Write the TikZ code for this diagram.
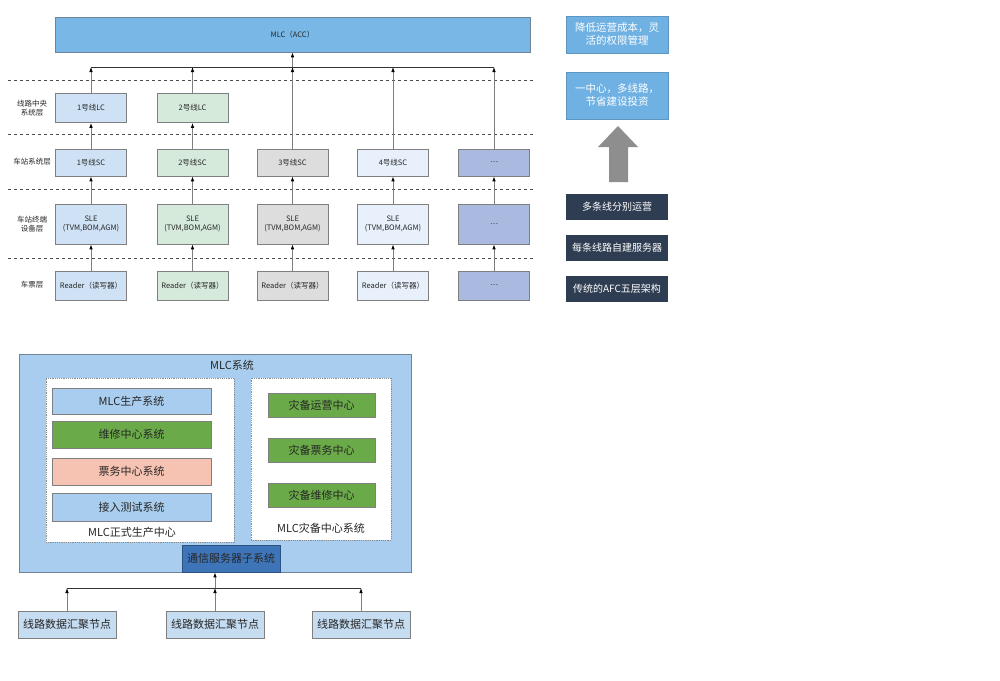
\documentclass[tikz,border=0pt]{standalone}
\usepackage{fontspec}
\setmainfont{Noto Sans CJK SC}
\usepackage{xcolor}
\usepackage{tikz}
\usetikzlibrary{positioning, arrows.meta}

\definecolor{accblue}{HTML}{79B8E6}
\definecolor{lineone}{HTML}{CFE2F5}
\definecolor{linetwo}{HTML}{D6EADB}
\definecolor{linethree}{HTML}{DDDDDD}
\definecolor{linefour}{HTML}{E7F0FB}
\definecolor{linemore}{HTML}{AAB9DF}
\definecolor{boxgray}{HTML}{7F7F7F}
\definecolor{goalblue}{HTML}{6FB1E3}
\definecolor{navy}{HTML}{2F3D52}
\definecolor{bigarrow}{HTML}{8E8E8E}
\definecolor{mlcblue}{HTML}{A9CDEE}
\definecolor{mlcedge}{HTML}{6F8399}
\definecolor{repairgreen}{HTML}{6AAA48}
\definecolor{ticketpink}{HTML}{F6C2B1}
\definecolor{commblue}{HTML}{3E75B9}
\definecolor{aggblue}{HTML}{C5DCF1}

\begin{document}
\begin{tikzpicture}[x=1pt, y=-1pt, >=latex,
  every node/.style={font=\fontsize{7.5}{9}\selectfont, align=center, inner sep=0pt, text=black!85},
  cell/.style={draw=boxgray, line width=0.7pt, minimum width=71pt, minimum height=29pt},
  up/.style={-{Latex[length=5pt, width=3.6pt, color=black]}, draw=boxgray, line width=0.8pt},
  layerline/.style={draw=black!70, dashed, line width=0.7pt},
  goal/.style={fill=goalblue, draw=goalblue!85!black, minimum width=102pt, text=white, font=\fontsize{10.5}{13}\selectfont},
  fact/.style={fill=navy, minimum width=102pt, minimum height=26pt, text=white, font=\fontsize{10}{12}\selectfont},
  sub/.style={draw=boxgray, line width=0.7pt, font=\fontsize{11}{13}\selectfont, text=black!85}]
\useasboundingbox (0,0) rectangle (1000,680);

% Five-layer AFC architecture
\node[draw=mlcedge, fill=accblue, line width=0.7pt, minimum width=475pt, minimum height=35pt] (mlc) at (292.5,34.5) {MLC（ACC）};

\draw[layerline] (8,80) -- (533,80);
\draw[layerline] (8,134) -- (533,134);
\draw[layerline] (8,189) -- (533,189);
\draw[layerline] (8,258) -- (533,258);

\node (lclayer) at (32,108) {线路中央\\系统层};
\node (sclayer) at (32,162) {车站系统层};
\node (slelayer) at (32,224) {车站终端\\设备层};
\node (cardlayer) at (32,285) {车票层};

% Nodes
\node[cell, fill=lineone] (lc1) at (91,108) {1号线LC};
\node[cell, fill=linetwo] (lc2) at (192.5,108) {2号线LC};

\node[cell, fill=lineone, minimum height=27pt] (sc1) at (91,162.5) {1号线SC};
\node[cell, fill=linetwo, minimum height=27pt] (sc2) at (192.5,162.5) {2号线SC};
\node[cell, fill=linethree, minimum height=27pt] (sc3) at (292.5,162.5) {3号线SC};
\node[cell, fill=linefour, minimum height=27pt] (sc4) at (393,162.5) {4号线SC};
\node[cell, fill=linemore, minimum height=27pt] (sc5) at (494,162.5) {…};

\node[cell, fill=lineone, minimum height=40pt] (sle1) at (91,224) {SLE\\(TVM,BOM,AGM)};
\node[cell, fill=linetwo, minimum height=40pt] (sle2) at (192.5,224) {SLE\\(TVM,BOM,AGM)};
\node[cell, fill=linethree, minimum height=40pt] (sle3) at (292.5,224) {SLE\\(TVM,BOM,AGM)};
\node[cell, fill=linefour, minimum height=40pt] (sle4) at (393,224) {SLE\\(TVM,BOM,AGM)};
\node[cell, fill=linemore, minimum height=40pt] (sle5) at (494,224) {…};

\node[cell, fill=lineone] (rd1) at (91,285.5) {Reader（读写器）};
\node[cell, fill=linetwo] (rd2) at (192.5,285.5) {Reader（读写器）};
\node[cell, fill=linethree] (rd3) at (292.5,285.5) {Reader（读写器）};
\node[cell, fill=linefour] (rd4) at (393,285.5) {Reader（读写器）};
\node[cell, fill=linemore] (rd5) at (494,285.5) {…};

\coordinate (bus) at (292.5,67);

% Arrows
\draw[up] (rd1) -- (sle1);
\draw[up] (rd2) -- (sle2);
\draw[up] (rd3) -- (sle3);
\draw[up] (rd4) -- (sle4);
\draw[up] (rd5) -- (sle5);
\draw[up] (sle1) -- (sc1);
\draw[up] (sle2) -- (sc2);
\draw[up] (sle3) -- (sc3);
\draw[up] (sle4) -- (sc4);
\draw[up] (sle5) -- (sc5);
\draw[up] (sc1) -- (lc1);
\draw[up] (sc2) -- (lc2);
\draw[up] (lc1) -- (lc1 |- bus);
\draw[up] (lc2) -- (lc2 |- bus);
\draw[up] (sc3) -- (bus);
\draw[up] (sc4) -- (sc4 |- bus);
\draw[up] (sc5) -- (sc5 |- bus);
\draw[black!80, line width=0.8pt] (lc1 |- bus) -- (sc5 |- bus);
\draw[up] (bus) -- (mlc);

% Evolution panel
\node[goal, minimum height=37pt] (goalcost) at (617,34.5) {降低运营成本，灵\\活的权限管理};
\node[goal, minimum height=47pt] (goalline) at (617,95.5) {一中心，多线路，\\节省建设投资};
\fill[bigarrow] (609,182) -- (609,147) -- (598,147) -- (618,126) -- (638,147) -- (628,147) -- (628,182) -- cycle;
\node[fact] (factrun) at (617,206.5) {多条线分别运营};
\node[fact] (factserver) at (617,247.5) {每条线路自建服务器};
\node[fact] (factafc) at (617,289) {传统的AFC五层架构};

% MLC system
\node[draw=mlcedge, fill=mlcblue, line width=0.8pt, minimum width=392pt, minimum height=218pt] (mlcsys) at (215,463) {};
\node[font=\fontsize{11}{13}\selectfont] (mlctitle) at (232,365) {MLC系统};
\node[draw=black!45, fill=white, dash pattern=on 1.2pt off 1pt, minimum width=188pt, minimum height=164pt] (prodzone) at (140,460) {};
\node[draw=black!45, fill=white, dash pattern=on 1.2pt off 1pt, minimum width=140pt, minimum height=162pt] (backzone) at (321,459) {};

\node[sub, fill=mlcblue, minimum width=159pt, minimum height=26pt] (prod) at (131.5,401) {MLC生产系统};
\node[sub, fill=repairgreen, minimum width=159pt, minimum height=27pt] (repair) at (131.5,434.5) {维修中心系统};
\node[sub, fill=ticketpink, minimum width=159pt, minimum height=27pt] (ticket) at (131.5,471.5) {票务中心系统};
\node[sub, fill=mlcblue, minimum width=159pt, minimum height=28pt] (access) at (131.5,507) {接入测试系统};
\node[font=\fontsize{11}{13}\selectfont] (prodlabel) at (132,532) {MLC正式生产中心};

\node[sub, fill=repairgreen, minimum width=107pt, minimum height=24pt] (backrun) at (321.5,405) {灾备运营中心};
\node[sub, fill=repairgreen, minimum width=107pt, minimum height=24pt] (backticket) at (321.5,450) {灾备票务中心};
\node[sub, fill=repairgreen, minimum width=107pt, minimum height=24pt] (backrepair) at (321.5,495) {灾备维修中心};
\node[font=\fontsize{11}{13}\selectfont] (backlabel) at (321,528) {MLC灾备中心系统};

\node[sub, fill=commblue, draw=commblue!70!black, minimum width=98pt, minimum height=27pt] (comm) at (231,558.5) {通信服务器子系统};

\node[sub, fill=aggblue, minimum width=98pt, minimum height=27pt] (agg1) at (67,624.5) {线路数据汇聚节点};
\node[sub, fill=aggblue, minimum width=98pt, minimum height=27pt] (agg2) at (215,624.5) {线路数据汇聚节点};
\node[sub, fill=aggblue, minimum width=98pt, minimum height=27pt] (agg3) at (361,624.5) {线路数据汇聚节点};

\coordinate (hub) at (215,588);
\draw[up] (agg1) -- (agg1 |- hub);
\draw[up] (agg2) -- (hub);
\draw[up] (agg3) -- (agg3 |- hub);
\draw[black!80, line width=0.8pt] (agg1 |- hub) -- (agg3 |- hub);
\draw[up] (hub) -- (hub |- comm.south);
\end{tikzpicture}
\end{document}
